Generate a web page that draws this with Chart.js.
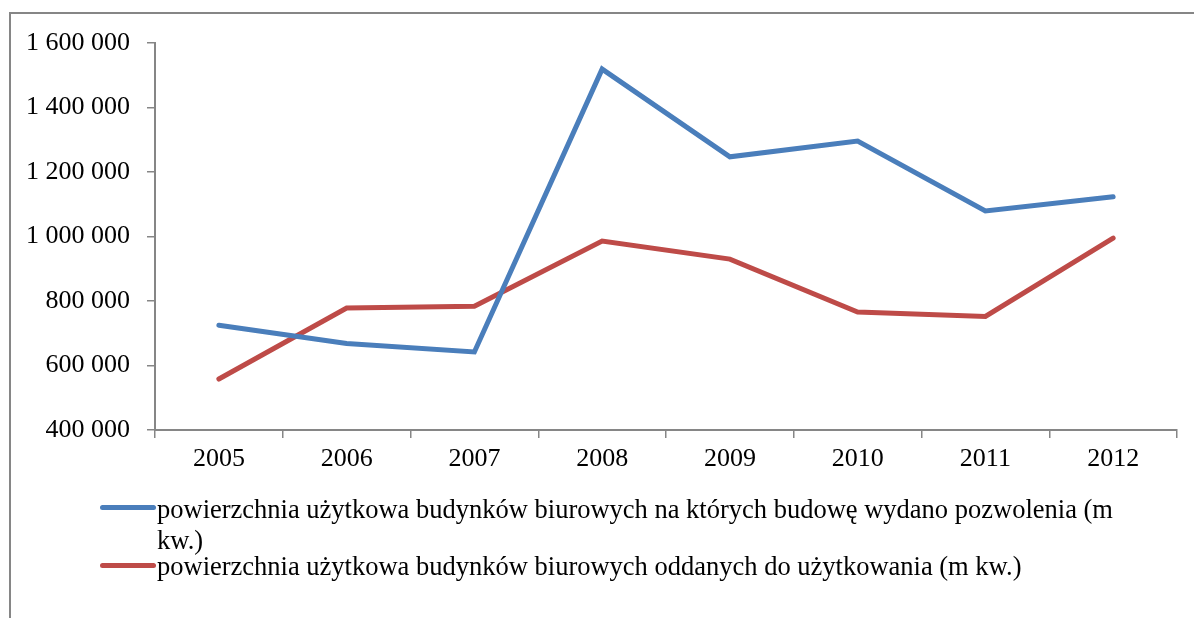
<!DOCTYPE html>
<html>
<head>
<meta charset="utf-8">
<script src="https://cdn.jsdelivr.net/npm/chart.js@4"></script>
<style>
  html, body { margin: 0; padding: 0; background: #fff; }
  body { width: 1194px; height: 618px; position: relative; overflow: hidden; font-family: "Liberation Serif", "Times New Roman", serif; }
  .frame { position: absolute; left: 9px; top: 12px; width: 1200px; height: 620px; border-top: 2px solid #868686; border-left: 2px solid #868686; }
  .wrap { position: absolute; left: 0; top: 0; width: 1194px; height: 618px; }
  .leg { position: absolute; left: 157px; width: 990px; font-size: 26.5px; line-height: 31px; color: #000; }
  .swatch { position: absolute; left: 100px; width: 56px; height: 5px; border-radius: 3px; }
</style>
</head>
<body>
<div class="frame"></div>
<div class="wrap"><canvas id="myChart" width="1194" height="618"></canvas></div>
<div class="swatch" style="top:505px;background:#4a7ebb"></div>
<div class="leg" id="leg1" style="top:494px"></div>
<div class="swatch" style="top:563px;background:#be4b48"></div>
<div class="leg" id="leg2" style="top:551px"></div>
<script>
const years = ["2005", "2006", "2007", "2008", "2009", "2010", "2011", "2012"];
const permits = [725000, 668000, 642000, 1519000, 1247000, 1296000, 1079000, 1123000];
const completed = [558000, 778000, 784000, 986000, 930000, 766000, 752000, 995000];
const seriesNames = [
  "powierzchnia użytkowa budynków biurowych na których budowę wydano pozwolenia (m kw.)",
  "powierzchnia użytkowa budynków biurowych oddanych do użytkowania (m kw.)"
];
const yMin = 400000, yMax = 1600000, yStep = 200000;

document.getElementById("leg1").textContent = seriesNames[0];
document.getElementById("leg2").textContent = seriesNames[1];

const fmt = v => String(v).replace(/\B(?=(\d{3})+(?!\d))/g, " ");
const font = { family: "'Liberation Serif', 'Times New Roman', serif", size: 26 };

const myChart = new Chart("myChart", {
  type: "line",
  data: {
    labels: years,
    datasets: [{
      label: seriesNames[0],
      data: permits,
      borderColor: "#4a7ebb",
      backgroundColor: "#4a7ebb",
      borderWidth: 5,
      pointRadius: 0,
      borderCapStyle: "round",
      borderJoinStyle: "miter",
      tension: 0
    },
    {
      label: seriesNames[1],
      data: completed,
      borderColor: "#be4b48",
      backgroundColor: "#be4b48",
      borderWidth: 5,
      pointRadius: 0,
      borderCapStyle: "round",
      borderJoinStyle: "miter",
      tension: 0
    }]
  },
  options: {
    responsive: false,
    animation: false,
    layout: { padding: { left: 0, top: 43, right: 17, bottom: 0 } },
    plugins: { legend: { display: false }, tooltip: { enabled: false } },
    scales: {
      x: {
        offset: true,
        grid: { drawOnChartArea: false, offset: true, color: "#868686", tickLength: 8, lineWidth: 1.5 },
        border: { color: "#868686", width: 2 },
        ticks: { color: "#000", font: font, padding: 6, maxRotation: 0 },
        afterFit: s => { s.height = 188; }
      },
      y: {
        min: yMin,
        max: yMax,
        grid: { drawOnChartArea: false, color: "#868686", tickLength: 8, lineWidth: 1.5 },
        border: { color: "#868686", width: 2 },
        ticks: { stepSize: yStep, color: "#000", font: font, padding: 17, callback: v => fmt(v) },
        afterFit: s => { s.width = 155; }
      }
    }
  }
});
</script>
</body>
</html>
